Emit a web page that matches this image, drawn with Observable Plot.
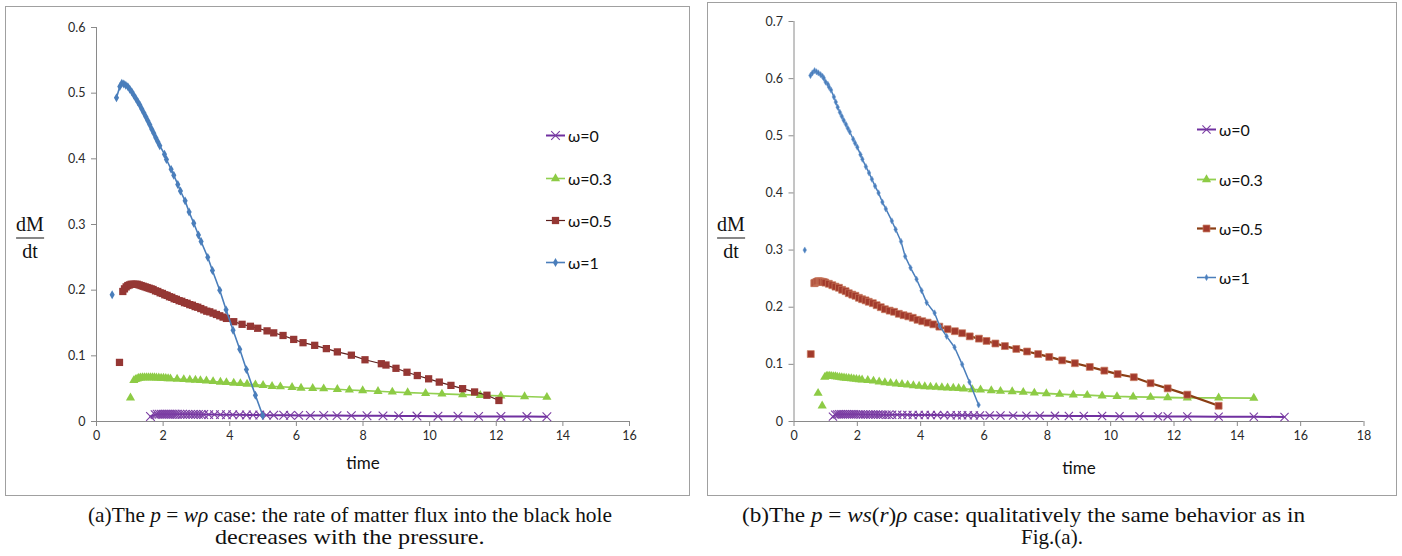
<!DOCTYPE html>
<html><head><meta charset="utf-8">
<script src="https://cdn.jsdelivr.net/npm/d3@7"></script>
<script src="https://cdn.jsdelivr.net/npm/@observablehq/plot@0.6"></script>
<style>
html,body{margin:0;padding:0;background:#fff;}
body{width:1402px;height:556px;position:relative;overflow:hidden;font-family:Lato,sans-serif;}
.box{position:absolute;border:1px solid #a0a0a0;box-sizing:border-box;}
.abs{position:absolute;white-space:nowrap;}
.lbl{font-family:Lato,sans-serif;font-size:17px;color:#111;transform:translate(-50%,-50%);}
.frac{font-family:"Liberation Serif",serif;font-size:20px;color:#111;text-align:center;transform:translate(-50%,-50%);line-height:22px;}
.frac .bar{border-top:1.3px solid #111;margin:3px 0 1px 0;}
.leg{font-family:Lato,sans-serif;font-size:16px;color:#111;display:flex;align-items:center;transform:translateY(-50%);}
.cap{font-family:"Liberation Serif",serif;font-size:21px;color:#111;transform-origin:0 0;}
</style></head><body>
<script>
// ---------------- DATA ----------------
const seriesNames = ["ω=0", "ω=0.3", "ω=0.5", "ω=1"];

// panel (a): p = wρ  — [time, dM/dt]
const a_w0 = [[1.62,0.0076],[1.76,0.0105],[1.82,0.0110],[1.88,0.0111],[1.94,0.0112],[2.00,0.0112],[2.06,0.0112],[2.12,0.0112],[2.18,0.0111],[2.24,0.0111],[2.30,0.0111],[2.36,0.0111],[2.42,0.0110],[2.50,0.0110],[2.58,0.0110],[2.66,0.0109],[2.74,0.0109],[2.82,0.0109],[2.90,0.0108],[2.98,0.0108],[3.06,0.0108],[3.14,0.0107],[3.22,0.0106],[3.37,0.0105],[3.54,0.0105],[3.72,0.0104],[3.90,0.0103],[4.09,0.0102],[4.30,0.0101],[4.50,0.0100],[4.70,0.0099],[4.90,0.0098],[5.10,0.0097],[5.32,0.0096],[5.62,0.0095],[5.82,0.0094],[6.07,0.0093],[6.42,0.0092],[6.82,0.0091],[7.22,0.0090],[7.65,0.0089],[8.12,0.0087],[8.60,0.0086],[9.07,0.0085],[9.62,0.0083],[10.25,0.0081],[10.85,0.0080],[11.47,0.0078],[12.14,0.0077],[12.92,0.0075],[13.52,0.0073]];
const a_w03 = [[1.02,0.036],[1.12,0.0625],[1.17,0.064],[1.22,0.065],[1.27,0.066],[1.32,0.0665],[1.38,0.067],[1.44,0.067],[1.50,0.067],[1.56,0.067],[1.62,0.067],[1.68,0.067],[1.74,0.0668],[1.80,0.0666],[1.87,0.0664],[1.94,0.0662],[2.01,0.066],[2.08,0.0658],[2.15,0.0655],[2.22,0.0652],[2.42,0.0645],[2.62,0.064],[2.80,0.0635],[2.97,0.063],[3.12,0.0625],[3.30,0.062],[3.50,0.061],[3.72,0.060],[3.90,0.0595],[4.12,0.0585],[4.32,0.058],[4.52,0.057],[4.77,0.056],[5.00,0.055],[5.27,0.0535],[5.52,0.053],[5.87,0.052],[6.14,0.051],[6.49,0.0505],[6.82,0.050],[7.23,0.049],[7.59,0.048],[7.99,0.047],[8.45,0.046],[8.88,0.045],[9.34,0.044],[9.88,0.043],[10.37,0.042],[10.99,0.041],[11.52,0.040],[12.14,0.039],[12.85,0.038],[13.52,0.037]];
const a_w05 = [[0.69,0.090],[0.79,0.198],[0.84,0.202],[0.89,0.205],[0.94,0.207],[0.99,0.208],[1.04,0.209],[1.10,0.209],[1.16,0.209],[1.22,0.209],[1.28,0.208],[1.34,0.207],[1.40,0.206],[1.46,0.205],[1.52,0.204],[1.58,0.203],[1.64,0.202],[1.70,0.201],[1.77,0.199],[1.84,0.198],[1.91,0.196],[1.98,0.195],[2.05,0.193],[2.12,0.192],[2.19,0.190],[2.26,0.189],[2.33,0.187],[2.40,0.186],[2.48,0.184],[2.56,0.183],[2.64,0.181],[2.72,0.180],[2.80,0.178],[2.88,0.177],[2.96,0.175],[3.04,0.174],[3.13,0.172],[3.22,0.170],[3.31,0.168],[3.40,0.167],[3.50,0.165],[3.60,0.163],[3.70,0.161],[3.80,0.159],[3.90,0.157],[4.12,0.152],[4.37,0.148],[4.62,0.145],[4.84,0.142],[5.12,0.138],[5.32,0.135],[5.60,0.131],[5.92,0.125],[6.20,0.120],[6.55,0.116],[6.90,0.111],[7.23,0.106],[7.65,0.101],[8.06,0.094],[8.55,0.088],[8.69,0.086],[8.99,0.081],[9.32,0.075],[9.63,0.070],[9.97,0.065],[10.29,0.060],[10.64,0.055],[10.99,0.050],[11.35,0.045],[11.72,0.040],[12.08,0.032]];
const a_w1 = [[0.47,0.193],[0.60,0.493],[0.70,0.510],[0.76,0.515],[0.82,0.514],[0.88,0.512],[0.94,0.510],[1.00,0.506],[1.06,0.502],[1.12,0.497],[1.18,0.492],[1.24,0.487],[1.30,0.482],[1.36,0.476],[1.42,0.470],[1.48,0.464],[1.54,0.458],[1.60,0.452],[1.66,0.445],[1.72,0.439],[1.78,0.432],[1.84,0.426],[1.90,0.420],[2.04,0.407],[2.10,0.399],[2.24,0.384],[2.32,0.375],[2.44,0.361],[2.52,0.351],[2.66,0.336],[2.78,0.319],[2.92,0.302],[3.06,0.284],[3.14,0.274],[3.34,0.250],[3.48,0.230],[3.70,0.200],[3.89,0.170],[4.10,0.139],[4.30,0.110],[4.50,0.079],[4.77,0.040],[4.99,0.009]];
const aUnjoined = [0, 1, 1, 1];   // leading points not joined by the line
const aXTicks = [0, 2, 4, 6, 8, 10, 12, 14, 16];
const aYTicks = [0, 0.1, 0.2, 0.3, 0.4, 0.5, 0.6];
const aYLabels = ["0", "0.1", "0.2", "0.3", "0.4", "0.5", "0.6"];

// panel (b): p = ws(r)ρ
const b_w0 = [[1.23,0.0085],[1.30,0.0120],[1.36,0.0125],[1.42,0.0127],[1.48,0.0128],[1.54,0.0128],[1.60,0.0128],[1.66,0.0128],[1.72,0.0127],[1.78,0.0127],[1.84,0.0126],[1.90,0.0126],[1.96,0.0125],[2.03,0.0125],[2.10,0.0124],[2.18,0.0124],[2.26,0.0123],[2.34,0.0123],[2.42,0.0122],[2.50,0.0122],[2.58,0.0121],[2.66,0.0121],[2.74,0.0120],[2.82,0.0120],[2.92,0.0119],[3.00,0.0119],[3.10,0.0118],[3.26,0.0117],[3.42,0.0116],[3.58,0.0116],[3.75,0.0115],[3.94,0.0114],[4.13,0.0113],[4.32,0.0112],[4.52,0.0112],[4.74,0.0111],[4.95,0.0110],[5.14,0.0109],[5.31,0.0108],[5.49,0.0108],[5.68,0.0107],[5.87,0.0106],[6.18,0.0105],[6.52,0.0104],[6.92,0.0103],[7.34,0.0101],[7.76,0.0100],[8.24,0.0099],[8.68,0.0097],[9.15,0.0096],[9.73,0.0095],[10.28,0.0093],[10.91,0.0092],[11.49,0.0090],[11.80,0.0089],[12.42,0.0088],[13.41,0.0085],[14.52,0.0082],[15.49,0.0080]];
const b_w03 = [[0.76,0.0495],[0.89,0.0275],[0.97,0.0775],[1.02,0.079],[1.07,0.0795],[1.13,0.0795],[1.19,0.079],[1.25,0.0788],[1.31,0.0785],[1.37,0.078],[1.44,0.0775],[1.51,0.077],[1.58,0.0765],[1.65,0.076],[1.73,0.0755],[1.81,0.075],[1.89,0.0745],[1.97,0.074],[2.06,0.0735],[2.15,0.073],[2.33,0.072],[2.51,0.071],[2.69,0.0695],[2.87,0.068],[3.05,0.067],[3.23,0.066],[3.41,0.065],[3.59,0.064],[3.77,0.063],[3.95,0.062],[4.13,0.061],[4.31,0.0605],[4.49,0.060],[4.67,0.0595],[4.85,0.059],[5.03,0.0585],[5.20,0.058],[5.36,0.057],[5.63,0.056],[5.89,0.0555],[6.23,0.054],[6.52,0.053],[6.89,0.0525],[7.24,0.0513],[7.59,0.050],[7.97,0.049],[8.39,0.0478],[8.82,0.0467],[9.26,0.046],[9.73,0.045],[10.20,0.0438],[10.71,0.0432],[11.26,0.0425],[11.80,0.042],[12.42,0.0415],[13.41,0.0415],[14.52,0.041]];
const b_w05 = [[0.53,0.118],[0.64,0.242],[0.67,0.243],[0.71,0.244],[0.74,0.245],[0.78,0.2455],[0.82,0.245],[0.85,0.2448],[0.89,0.2445],[0.94,0.244],[0.99,0.243],[1.10,0.241],[1.21,0.2385],[1.31,0.236],[1.42,0.234],[1.52,0.2305],[1.63,0.228],[1.73,0.2245],[1.84,0.222],[1.94,0.220],[2.05,0.2165],[2.15,0.214],[2.26,0.212],[2.36,0.2095],[2.49,0.207],[2.61,0.2035],[2.74,0.200],[2.87,0.1965],[3.02,0.194],[3.16,0.192],[3.31,0.1885],[3.46,0.186],[3.61,0.184],[3.75,0.1815],[3.90,0.178],[4.05,0.1755],[4.22,0.173],[4.40,0.170],[4.59,0.166],[4.85,0.1615],[5.08,0.158],[5.31,0.1545],[5.55,0.149],[5.84,0.145],[6.08,0.141],[6.36,0.1365],[6.66,0.132],[7.02,0.127],[7.36,0.1225],[7.71,0.118],[8.06,0.113],[8.47,0.107],[8.87,0.102],[9.34,0.0955],[9.80,0.089],[10.22,0.083],[10.73,0.0775],[11.26,0.067],[11.80,0.058],[12.42,0.047],[13.41,0.0275]];
const b_w1 = [[0.34,0.300],[0.52,0.6055],[0.58,0.610],[0.65,0.614],[0.71,0.612],[0.77,0.610],[0.84,0.607],[0.90,0.604],[0.94,0.601],[1.00,0.594],[1.07,0.590],[1.11,0.585],[1.17,0.580],[1.26,0.568],[1.32,0.559],[1.38,0.550],[1.45,0.541],[1.51,0.534],[1.57,0.527],[1.64,0.520],[1.70,0.513],[1.76,0.507],[1.87,0.494],[1.93,0.487],[2.00,0.480],[2.10,0.467],[2.16,0.459],[2.27,0.446],[2.37,0.435],[2.46,0.424],[2.56,0.412],[2.67,0.400],[2.79,0.384],[2.90,0.372],[3.09,0.351],[3.21,0.336],[3.38,0.315],[3.51,0.289],[3.68,0.269],[3.87,0.249],[4.03,0.229],[4.19,0.208],[4.44,0.190],[4.60,0.167],[4.82,0.149],[5.07,0.130],[5.31,0.100],[5.54,0.069],[5.83,0.029]];
const bUnjoined = [0, 2, 1, 1];
const bXTicks = [0, 2, 4, 6, 8, 10, 12, 14, 16, 18];
const bYTicks = [0, 0.1, 0.2, 0.3, 0.4, 0.5, 0.6, 0.7];
const bYLabels = ["0", "0.1", "0.2", "0.3", "0.4", "0.5", "0.6", "0.7"];

const captionA = ['(a)The <i>p</i> = <i>wρ</i> case: the rate of matter flux into the black hole', 'decreases with the pressure.'];
const captionB = ['(b)The <i>p</i> = <i>ws</i>(<i>r</i>)<i>ρ</i> case: qualitatively the same behavior as in', 'Fig.(a).'];

// ---------------- STYLES / LAYOUT ----------------
const stylesA = [
  {symbol:"times", r:4.0, fill:"none", stroke:"#7B3EA3", sw:1.1, line:"#7030A0", lw:2},
  {symbol:"triangle", r:3.4, fill:"#8DCB45", stroke:"none", sw:0, line:"#92D050", lw:1.6},
  {symbol:"square", r:4.1, fill:"#953734", stroke:"none", sw:0, line:"#5A1E1C", lw:1.2},
  {symbol:"diamond", r:2.7, fill:"#4A7EBB", stroke:"none", sw:0, line:"#4A7EBB", lw:1.6}
];
const stylesB = [
  {symbol:"times", r:3.8, fill:"none", stroke:"#7B3EA3", sw:1.1, line:"#7030A0", lw:2},
  {symbol:"triangle", r:3.4, fill:"#8DCB45", stroke:"none", sw:0, line:"#92D050", lw:1.8},
  {symbol:"square", r:3.9, fill:"#A23A2C", stroke:"#C97A5C", sw:0.7, line:"#8A3E14", lw:2.2},
  {symbol:"diamond", r:1.9, fill:"#4A7EBB", stroke:"#6E9BD1", sw:0.5, line:"#4A7EBB", lw:1.5}
];

const panels = [
  {series:[a_w0,a_w03,a_w05,a_w1], unjoined:aUnjoined, xTicks:aXTicks, yTicks:aYTicks, yLabels:aYLabels,
   styles:stylesA, box:{l:5,t:6,w:685,h:490}, svg:{l:6,t:7,w:683,h:487, mt:20, mr:60, mb:73, ml:90},
   time:{x:363,y:462}, frac:{x:30,y:237}, legend:{x:546,ys:[135,178,220,262]},
   caption:captionA, cap:[{cx:350,w:524},{cx:350,w:301}]},
  {series:[b_w0,b_w03,b_w05,b_w1], unjoined:bUnjoined, xTicks:bXTicks, yTicks:bYTicks, yLabels:bYLabels,
   styles:stylesB, box:{l:707,t:2,w:690,h:494}, svg:{l:708,t:3,w:688,h:492, mt:18, mr:32.5, mb:74, ml:85.5},
   time:{x:1079,y:467}, frac:{x:731,y:237}, legend:{x:1197,ys:[129,179,228,277]},
   caption:captionB, cap:[{cx:1023,w:563},{cx:1052,w:null}]}
];

function symbolPath(name, r){
  const m = {times:d3.symbolTimes, triangle:d3.symbolTriangle, square:d3.symbolSquare, diamond:d3.symbolDiamond};
  return d3.symbol(m[name], r*r*Math.PI)();
}

for (const p of panels){
  const box = document.createElement("div");
  box.className = "box";
  Object.assign(box.style, {left:p.box.l+"px", top:p.box.t+"px", width:p.box.w+"px", height:p.box.h+"px"});
  document.body.appendChild(box);

  const marks = [];
  p.series.forEach((s, i) => {
    const st = p.styles[i];
    const rows = s.map(([t, v], k) => ({t, v, k}));
    marks.push(Plot.line(rows.filter(d => d.k >= p.unjoined[i]), {x:"t", y:"v", stroke:st.line, strokeWidth:st.lw, curve:"linear"}));
    marks.push(Plot.dot(rows, {x:"t", y:"v", symbol:st.symbol, r:st.r, fill:st.fill, stroke:st.stroke, strokeWidth:st.sw}));
  });
  const xMax = p.xTicks[p.xTicks.length-1], yMax = p.yTicks[p.yTicks.length-1];
  const chart = Plot.plot({
    width:p.svg.w, height:p.svg.h,
    marginTop:p.svg.mt, marginRight:p.svg.mr, marginBottom:p.svg.mb, marginLeft:p.svg.ml,
    x:{domain:[0, xMax]}, y:{domain:[0, yMax]},
    style:{fontFamily:"Lato, sans-serif", fontSize:"12.5px", color:"#2a2a2a", background:"transparent", overflow:"visible"},
    marks:[
      Plot.axisX({ticks:p.xTicks, tickFormat:d => String(d), tickSize:5, tickPadding:5, stroke:"#8a8a8a", label:null}),
      Plot.axisY({ticks:p.yTicks, tickFormat:(d, i) => p.yLabels[i], tickSize:5, tickPadding:6, stroke:"#8a8a8a", label:null}),
      Plot.ruleY([0], {stroke:"#8a8a8a"}),
      Plot.ruleX([0], {stroke:"#8a8a8a"}),
      ...marks
    ]
  });
  Object.assign(chart.style, {position:"absolute", left:p.svg.l+"px", top:p.svg.t+"px"});
  document.body.appendChild(chart);

  // axis titles
  const tm = document.createElement("div");
  tm.className = "abs lbl"; tm.textContent = "time";
  Object.assign(tm.style, {left:p.time.x+"px", top:p.time.y+"px"});
  document.body.appendChild(tm);
  const fr = document.createElement("div");
  fr.className = "abs frac";
  fr.innerHTML = '<div>dM</div><div class="bar"></div><div>dt</div>';
  Object.assign(fr.style, {left:p.frac.x+"px", top:p.frac.y+"px"});
  document.body.appendChild(fr);

  // legend
  seriesNames.forEach((name, i) => {
    const st = p.styles[i];
    const e = document.createElement("div");
    e.className = "abs leg";
    Object.assign(e.style, {left:p.legend.x+"px", top:p.legend.ys[i]+"px"});
    const svg = d3.create("svg").attr("width", 20).attr("height", 14).style("overflow","visible");
    svg.append("line").attr("x1",0).attr("x2",19).attr("y1",7).attr("y2",7).attr("stroke",st.line).attr("stroke-width",st.lw);
    svg.append("path").attr("d", symbolPath(st.symbol, st.r)).attr("transform","translate(9.5,7)")
      .attr("fill", st.fill).attr("stroke", st.stroke === "none" ? null : st.stroke).attr("stroke-width", st.sw);
    e.appendChild(svg.node());
    const tx = document.createElement("span");
    tx.textContent = name; tx.style.marginLeft = "2px";
    e.appendChild(tx);
    document.body.appendChild(e);
  });

  // caption: each line centred and fitted to the reference line width
  p.caption.forEach((line, j) => {
    const c = document.createElement("div");
    c.className = "abs cap";
    c.innerHTML = line;
    document.body.appendChild(c);
    const w = c.getBoundingClientRect().width;
    const sx = p.cap[j].w ? Math.max(0.85, Math.min(1.15, p.cap[j].w / w)) : 1;
    Object.assign(c.style, {left:(p.cap[j].cx - w*sx/2)+"px", top:(503 + j*22)+"px", transform:`scaleX(${sx})`});
  });
}
</script>
</body></html>
